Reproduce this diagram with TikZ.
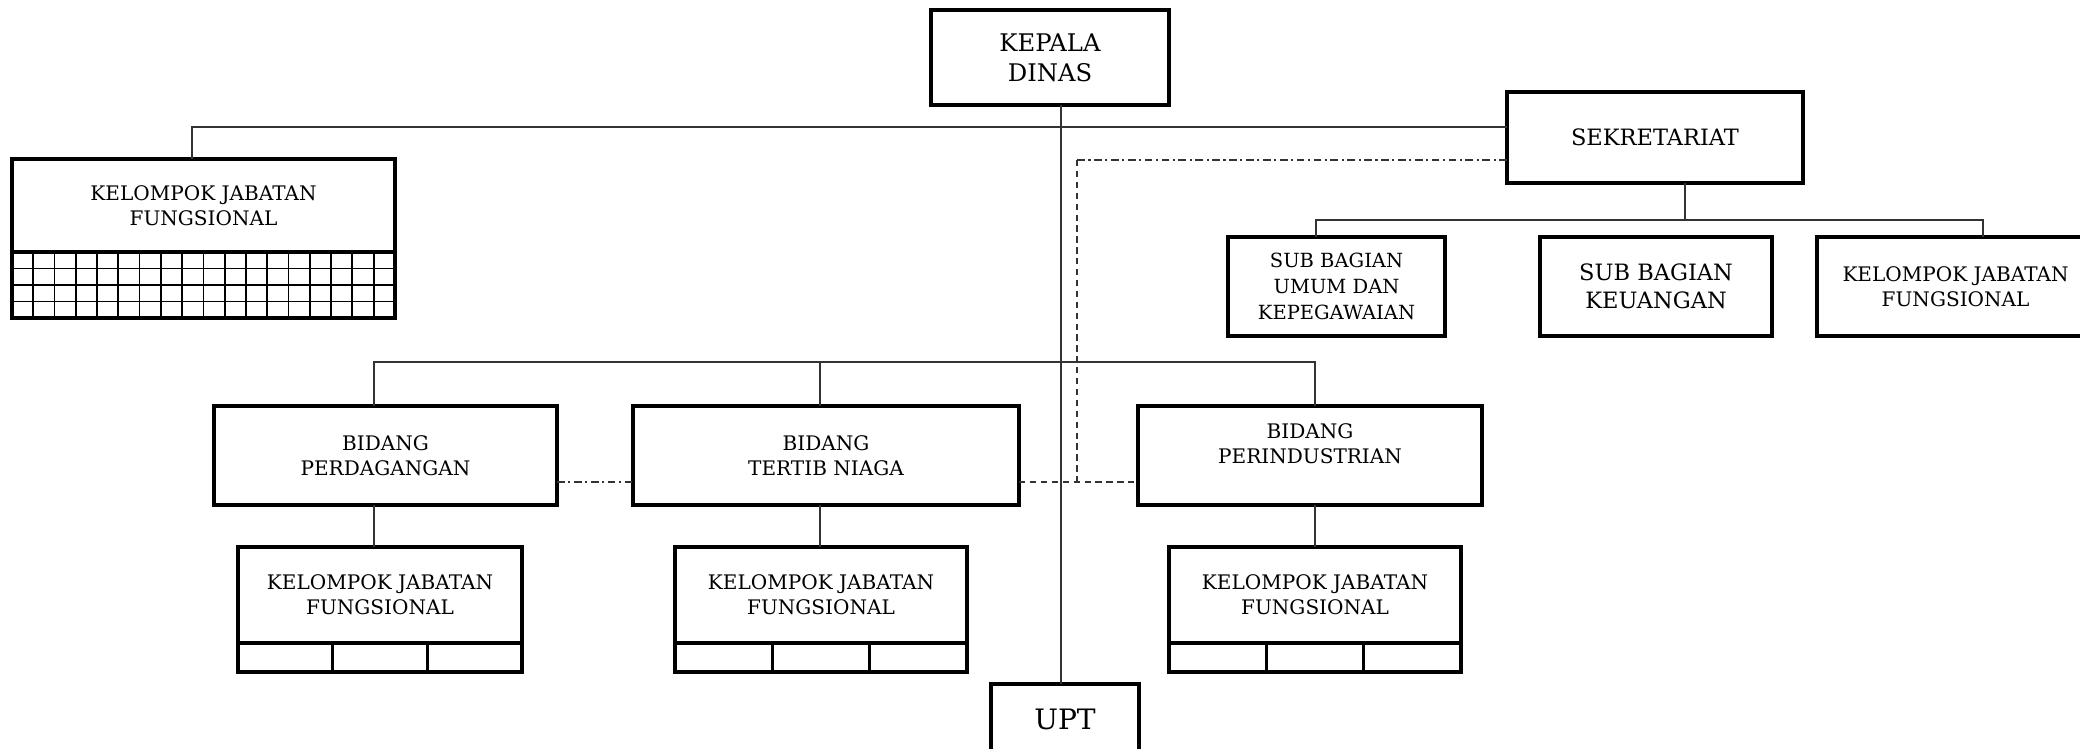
\documentclass[tikz,border=0pt]{standalone}
\usepackage{fontspec}
\setmainfont{DejaVu Serif}
\usetikzlibrary{calc}

\begin{document}
\begin{tikzpicture}[x=0.01cm, y=-0.01cm,
  box/.style={draw, rectangle, line width=1pt, inner sep=0pt, outer sep=0pt, align=center, font=\fontsize{5.7}{7.1}\selectfont},
  boxtext/.style={align=center, inner sep=0pt, font=\fontsize{5.7}{7.1}\selectfont},
  wire/.style={line width=0.55pt, draw=black!80},
  dashdot/.style={wire, dash pattern=on 2.2pt off 1pt on 0.6pt off 1pt},
  dashline/.style={wire, dash pattern=on 1.8pt off 1.3pt}]
  \useasboundingbox (0,0) rectangle (2080,749);
  \clip (0,0) rectangle (2080,749);

  \node[box, minimum width=2.38cm, minimum height=0.95cm, font=\fontsize{6.9}{8.5}\selectfont] (kepala) at (1050,57.5) {KEPALA\\DINAS};
  \node[box, minimum width=2.96cm, minimum height=0.91cm, font=\fontsize{6.4}{7.9}\selectfont] (sekretariat) at (1655,137.5) {SEKRETARIAT};
  \node[box, minimum width=2.17cm, minimum height=0.99cm, font=\fontsize{5.55}{7.4}\selectfont] (subUmum) at (1336.5,286.5) {SUB BAGIAN\\UMUM DAN\\KEPEGAWAIAN};
  \node[box, minimum width=2.32cm, minimum height=0.99cm, font=\fontsize{6.4}{7.9}\selectfont] (subKeu) at (1656,286.5) {SUB BAGIAN\\KEUANGAN};
  \node[box, minimum width=2.77cm, minimum height=0.99cm] (kjfSekr) at (1955.5,286.5) {KELOMPOK JABATAN\\FUNGSIONAL};

  \node[box, minimum width=3.83cm, minimum height=0.93cm] (kjfLeft) at (203.5,205.5) {KELOMPOK JABATAN\\FUNGSIONAL};
  \foreach \i in {1,...,17}
    \draw[line width=0.5pt] ($(kjfLeft.south west)+(\i*21.28,0)$) -- ++(0,66);
  \foreach \j in {1,2,3}
    \draw[line width=0.5pt] ($(kjfLeft.south west)+(0,\j*16.5)$) -- ++(383,0);
  \draw[line width=1pt] (kjfLeft.south west) rectangle ++(383,66);

  \node[box, minimum width=3.43cm, minimum height=0.99cm] (bidDag) at (385.5,455.5) {BIDANG\\PERDAGANGAN};
  \node[box, minimum width=3.86cm, minimum height=0.99cm] (bidNiaga) at (826,455.5) {BIDANG\\TERTIB NIAGA};
  \node[box, minimum width=3.44cm, minimum height=0.99cm] (bidIndustri) at (1310,455.5) {};
  \node[boxtext] (bidIndustriText) at (1310,444) {BIDANG\\PERINDUSTRIAN};

  \node[box, minimum width=2.84cm, minimum height=0.96cm] (kjfDag) at (380,595) {KELOMPOK JABATAN\\FUNGSIONAL};
  \node[box, minimum width=2.92cm, minimum height=0.96cm] (kjfNiaga) at (821,595) {KELOMPOK JABATAN\\FUNGSIONAL};
  \node[box, minimum width=2.92cm, minimum height=0.96cm] (kjfIndustri) at (1315,595) {KELOMPOK JABATAN\\FUNGSIONAL};
  \foreach \n/\w in {kjfDag/284, kjfNiaga/292, kjfIndustri/292} {
    \draw[line width=0.8pt] ($(\n.south west)+(\w/3,0)$) -- ++(0,29);
    \draw[line width=0.8pt] ($(\n.south west)+(2*\w/3,0)$) -- ++(0,29);
    \draw[line width=1pt] (\n.south west) rectangle ++(\w,29);
  }

  \node[box, minimum width=1.48cm, minimum height=0.70cm, font=\fontsize{8}{9.6}\selectfont] (upt) at (1065,719) {UPT};

  \coordinate (spine) at (1061,0);
  \draw[wire] (kepala.south -| spine) -- (upt.north -| spine);

  \coordinate (topBus) at (192,127);
  \draw[wire] (kjfLeft.north -| topBus) -- (topBus) -- (topBus -| sekretariat.west);

  \coordinate (subBusL) at (1316,220);
  \coordinate (subBusM) at (1685,220);
  \coordinate (subBusR) at (1983,220);
  \draw[wire] (subUmum.north -| subBusL) -- (subBusL) -- (subBusR) -- (kjfSekr.north -| subBusR);
  \draw[wire] (sekretariat.south -| subBusM) -- (subBusM);

  \coordinate (bidBusL) at (374,362);
  \coordinate (bidBusM) at (820,362);
  \coordinate (bidBusR) at (1315,362);
  \draw[wire] (bidDag.north -| bidBusL) -- (bidBusL) -- (bidBusR) -- (bidIndustri.north -| bidBusR);
  \draw[wire] (bidBusM) -- (bidNiaga.north -| bidBusM);
  \draw[wire] (bidDag.south -| bidBusL) -- (kjfDag.north -| bidBusL);
  \draw[wire] (bidNiaga.south -| bidBusM) -- (kjfNiaga.north -| bidBusM);
  \draw[wire] (bidIndustri.south -| bidBusR) -- (kjfIndustri.north -| bidBusR);

  \coordinate (koordTop) at (1077,160);
  \coordinate (koordLow) at (1077,482);
  \draw[dashdot] (sekretariat.west |- koordTop) -- (koordTop);
  \draw[dashline] (koordTop) -- (koordLow);
  \draw[dashline] (bidNiaga.east |- koordLow) -- (bidIndustri.west |- koordLow);
  \draw[dashdot] (bidDag.east |- koordLow) -- (bidNiaga.west |- koordLow);
\end{tikzpicture}
\end{document}
